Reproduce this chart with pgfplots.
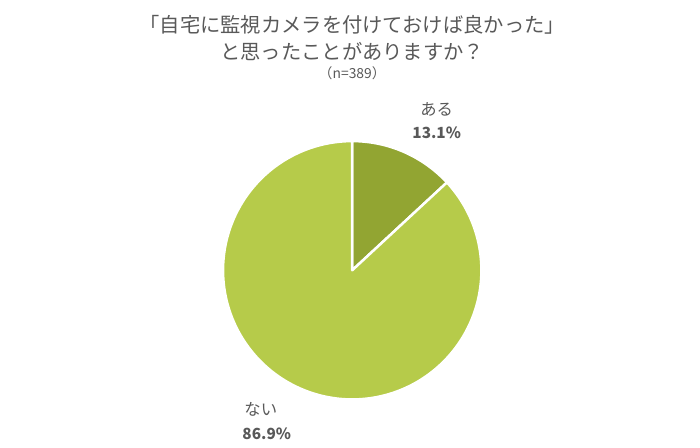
\documentclass[border=0pt]{standalone}
\usepackage{fontspec}
\setmainfont{Noto Sans CJK JP}
\usepackage{pgfplots}
\usepackage{pgfplotstable}
\pgfplotsset{compat=1.18}

\definecolor{aru}{HTML}{92A532}
\definecolor{nai}{HTML}{B6CB4A}
\definecolor{txt}{HTML}{595959}

\pgfplotstableread{
idx value
0 13.1
1 86.9
}\piedata

\begin{document}
\pgfplotstablegetelem{0}{value}\of\piedata \let\va\pgfplotsretval
\pgfplotstablegetelem{1}{value}\of\piedata \let\vb\pgfplotsretval
\pgfmathsetmacro\angA{90-3.6*\va}
\pgfmathsetmacro\angB{\angA-3.6*\vb}
\begin{tikzpicture}
\begin{axis}[
    width=700bp, height=450bp, scale only axis,
    xmin=0, xmax=700, ymin=0, ymax=450,
    hide axis, clip=false,
]
% invisible frame to fix the page size
\addplot[draw=none, forget plot] coordinates {(0,0) (700,450)};

% slices, clockwise from the top
\addplot[fill=aru, draw=white, line width=2.5bp, line join=round,
    domain=\angA:90, samples=60, variable=\t]
    ({350+130*cos(t)},{178+130*sin(t)}) -- (axis cs:350,178) -- cycle;
\addplot[fill=nai, draw=white, line width=2.5bp, line join=round,
    domain=\angB:\angA, samples=200, variable=\t]
    ({350+130*cos(t)},{178+130*sin(t)}) -- (axis cs:350,178) -- cycle;

% titles
\node[text=txt, font=\fontsize{20.5}{24}\selectfont] at (axis cs:350,425) {「自宅に監視カメラを付けておけば良かった」};
\node[text=txt, font=\fontsize{20.5}{24}\selectfont] at (axis cs:350,398) {と思ったことがありますか？};
\node[text=txt, font=\fontsize{14}{16}\selectfont] at (axis cs:350,376) {（n=389）};

% labels
\node[text=txt, font=\fontsize{16.5}{19}\selectfont] at (axis cs:435,340) {ある};
\node[text=txt, font=\fontsize{15.5}{18}\selectfont\bfseries] at (axis cs:435,316) {\va\%};
\node[text=txt, font=\fontsize{16.5}{19}\selectfont] at (axis cs:258,38) {ない};
\node[text=txt, font=\fontsize{15.5}{18}\selectfont\bfseries] at (axis cs:264,13) {\vb\%};
\end{axis}
\end{tikzpicture}
\end{document}
